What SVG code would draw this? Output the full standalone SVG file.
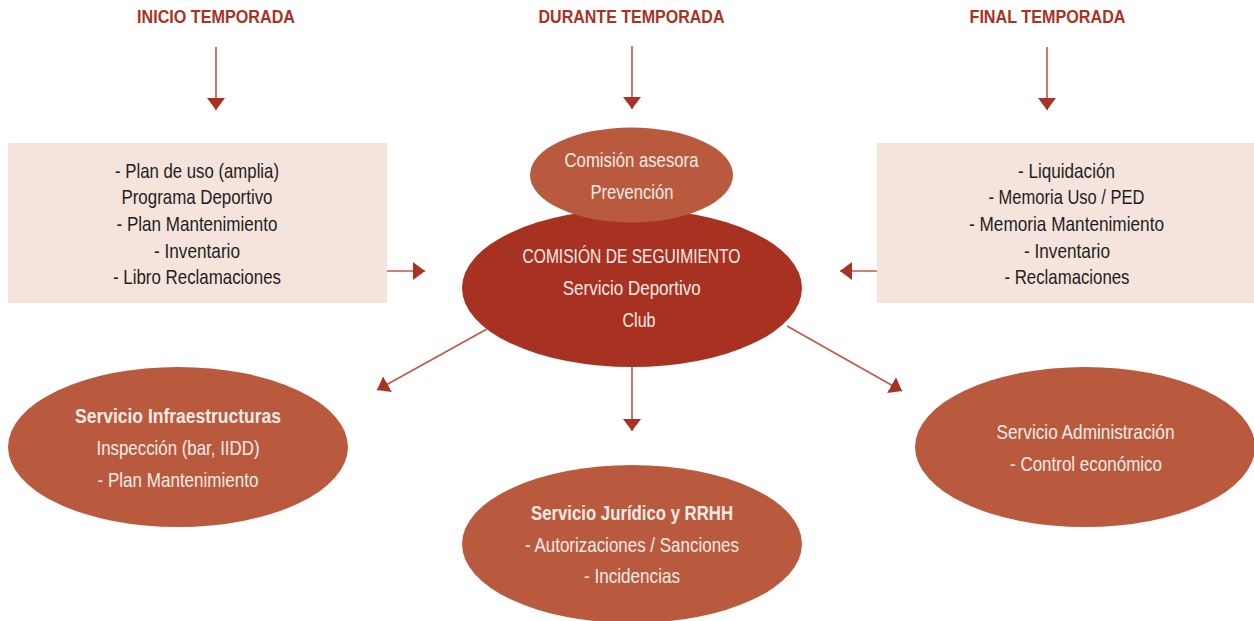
<svg xmlns="http://www.w3.org/2000/svg" width="1254" height="621" viewBox="0 0 1254 621">
<defs>
<marker id="ah" markerUnits="userSpaceOnUse" markerWidth="12" markerHeight="18" refX="12" refY="9" orient="auto" viewBox="0 0 12 18">
<path d="M0,0 L12,9 L0,18 z" fill="#a83224"/>
</marker>
</defs>
<style>
text{font-family:"Liberation Sans",Arial,sans-serif;font-size:21px;text-anchor:middle}
.title{font-weight:bold;fill:#a83224;font-size:19px}
.dark{fill:#1e1e1e}
.light{fill:#f8ebe5}
.b{font-weight:bold}
.box{fill:#f4e4dc}
.svc{fill:#b95a3f}
.main{fill:#a83222}
.conn{stroke:#c0564c;stroke-width:1.6;fill:none;marker-end:url(#ah)}
</style>
<rect width="1254" height="621" fill="#ffffff"/>
<g id="titles">
<text class="title" x="216" y="23" textLength="158" lengthAdjust="spacingAndGlyphs">INICIO TEMPORADA</text>
<text class="title" x="631.5" y="23" textLength="186" lengthAdjust="spacingAndGlyphs">DURANTE TEMPORADA</text>
<text class="title" x="1047.5" y="23" textLength="156" lengthAdjust="spacingAndGlyphs">FINAL TEMPORADA</text>
</g>
<g id="connectors">
<line class="conn" x1="216" y1="47" x2="216" y2="110"/>
<line class="conn" x1="632" y1="46" x2="632" y2="109"/>
<line class="conn" x1="1047" y1="47" x2="1047" y2="110"/>
<line class="conn" x1="387" y1="271" x2="425" y2="271"/>
<line class="conn" x1="877" y1="271" x2="840" y2="271"/>
<line class="conn" x1="487" y1="329" x2="377" y2="390"/>
<line class="conn" x1="787" y1="326" x2="902" y2="391"/>
<line class="conn" x1="632" y1="366" x2="632" y2="431"/>
</g>
<g id="inicio-box">
<rect class="box" x="8" y="143" width="379" height="160"/>
<text class="dark" x="197" y="178" textLength="164" lengthAdjust="spacingAndGlyphs">- Plan de uso (amplia)</text>
<text class="dark" x="197" y="204" textLength="151" lengthAdjust="spacingAndGlyphs">Programa Deportivo</text>
<text class="dark" x="197" y="231" textLength="161" lengthAdjust="spacingAndGlyphs">- Plan Mantenimiento</text>
<text class="dark" x="197" y="258" textLength="86" lengthAdjust="spacingAndGlyphs">- Inventario</text>
<text class="dark" x="197" y="284" textLength="168" lengthAdjust="spacingAndGlyphs">- Libro Reclamaciones</text>
</g>
<g id="final-box">
<rect class="box" x="877" y="143" width="377" height="160"/>
<text class="dark" x="1066.5" y="178" textLength="97" lengthAdjust="spacingAndGlyphs">- Liquidación</text>
<text class="dark" x="1066.5" y="204" textLength="156" lengthAdjust="spacingAndGlyphs">- Memoria Uso / PED</text>
<text class="dark" x="1066.5" y="231" textLength="195" lengthAdjust="spacingAndGlyphs">- Memoria Mantenimiento</text>
<text class="dark" x="1067" y="258" textLength="86" lengthAdjust="spacingAndGlyphs">- Inventario</text>
<text class="dark" x="1067" y="284" textLength="125" lengthAdjust="spacingAndGlyphs">- Reclamaciones</text>
</g>
<g id="comision-seguimiento">
<ellipse class="main" cx="632" cy="288" rx="170" ry="79"/>
<text class="light" x="631.5" y="263" textLength="218" lengthAdjust="spacingAndGlyphs">COMISIÓN DE SEGUIMIENTO</text>
<text class="light" x="631.7" y="295" textLength="138" lengthAdjust="spacingAndGlyphs">Servicio Deportivo</text>
<text class="light" x="639" y="327" textLength="33" lengthAdjust="spacingAndGlyphs">Club</text>
</g>
<g id="comision-asesora">
<ellipse class="svc" cx="631.5" cy="175" rx="101.5" ry="47.5"/>
<text class="light" x="631.5" y="167" textLength="134" lengthAdjust="spacingAndGlyphs">Comisión asesora</text>
<text class="light" x="632" y="199" textLength="83" lengthAdjust="spacingAndGlyphs">Prevención</text>
</g>
<g id="servicio-infraestructuras">
<ellipse class="svc" cx="178" cy="447" rx="170" ry="80"/>
<text class="light b" x="178" y="423" textLength="206" lengthAdjust="spacingAndGlyphs">Servicio Infraestructuras</text>
<text class="light" x="178" y="455" textLength="163" lengthAdjust="spacingAndGlyphs">Inspección (bar, IIDD)</text>
<text class="light" x="178" y="487" textLength="161" lengthAdjust="spacingAndGlyphs">- Plan Mantenimiento</text>
</g>
<g id="servicio-juridico">
<ellipse class="svc" cx="632" cy="544" rx="170" ry="79"/>
<text class="light b" x="632" y="520" textLength="202" lengthAdjust="spacingAndGlyphs">Servicio Jurídico y RRHH</text>
<text class="light" x="632" y="552" textLength="214" lengthAdjust="spacingAndGlyphs">- Autorizaciones / Sanciones</text>
<text class="light" x="632" y="583" textLength="96" lengthAdjust="spacingAndGlyphs">- Incidencias</text>
</g>
<g id="servicio-administracion">
<ellipse class="svc" cx="1085" cy="447" rx="170" ry="80"/>
<text class="light" x="1085.5" y="439" textLength="178" lengthAdjust="spacingAndGlyphs">Servicio Administración</text>
<text class="light" x="1086" y="471" textLength="152" lengthAdjust="spacingAndGlyphs">- Control económico</text>
</g>
</svg>
